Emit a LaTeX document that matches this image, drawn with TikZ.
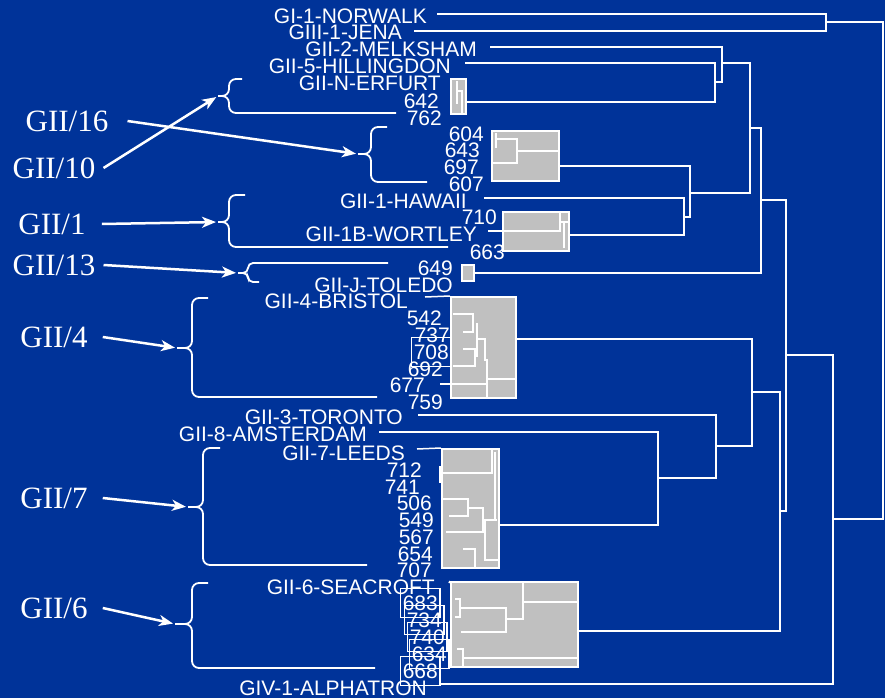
\documentclass[tikz,border=0pt]{standalone}
\usepackage{fontspec}
\setmainfont{Liberation Serif}
\setsansfont{Liberation Sans}
\usetikzlibrary{arrows.meta, fit}

\definecolor{slideblue}{RGB}{0,51,153}
\definecolor{clustergray}{RGB}{192,192,192}

\begin{document}
\begin{tikzpicture}[
    x=1pt, y=-1pt,
    strain/.style   ={font=\sffamily\fontsize{21}{24}\selectfont, text=white,
                      anchor=east, inner sep=0pt},
    genogroup/.style={font=\rmfamily\fontsize{31}{34}\selectfont, text=white,
                      inner sep=0pt},
    branch/.style   ={draw=white, line width=2pt},
    twig/.style     ={draw=white, line width=1.5pt},
    cluster/.style  ={draw=white, line width=2pt, fill=clustergray, inner sep=0pt},
    tag/.style      ={draw=white, line width=1.5pt, inner xsep=2pt, inner ysep=7pt},
    bracket/.style  ={draw=white, line width=1.8pt, rounded corners=7pt},
    pointer/.style  ={draw=white, line width=2.5pt, shorten >=2pt,
                      -{Stealth[length=14pt, width=11pt, inset=4pt]}}
]

\fill[slideblue] (0,0) rectangle (885,698);
\useasboundingbox (0,0) rectangle (885,698);

% =================== Strain labels ===================
\node[strain] (norwalk)    at (427,16)  {GI-1-NORWALK};
\node[strain] (jena)       at (402,32)  {GIII-1-JENA};
\node[strain] (melksham)   at (477,49)  {GII-2-MELKSHAM};
\node[strain] (hillingdon) at (451,66)  {GII-5-HILLINGDON};
\node[strain] (erfurt)     at (441,83)  {GII-N-ERFURT};
\node[strain] (s642)       at (439,101) {642};
\node[strain] (s762)       at (442,118) {762};
\node[strain] (s604)       at (484,134) {604};
\node[strain] (s643)       at (480,150) {643};
\node[strain] (s697)       at (479,167) {697};
\node[strain] (s607)       at (484,184) {607};
\node[strain] (hawaii)     at (467,201) {GII-1-HAWAII};
\node[strain] (s710)       at (497,217) {710};
\node[strain] (wortley)    at (477,234) {GII-1B-WORTLEY};
\node[strain] (s663)       at (505,252) {663};
\node[strain] (s649)       at (453,268) {649};
\node[strain] (toledo)     at (453,285) {GII-J-TOLEDO};
\node[strain] (bristol)    at (408,301) {GII-4-BRISTOL};
\node[strain] (s542)       at (442,318) {542};
\node[strain] (s737)       at (450,335) {737};
\node[strain] (s708)       at (449,352) {708};
\node[strain] (s692)       at (443,369) {692};
\node[strain] (s677)       at (425,385) {677};
\node[strain] (s759)       at (443,402) {759};
\node[strain] (toronto)    at (403,417) {GII-3-TORONTO};
\node[strain] (amsterdam)  at (367,434) {GII-8-AMSTERDAM};
\node[strain] (leeds)      at (405,453) {GII-7-LEEDS};
\node[strain] (s712)       at (422,470) {712};
\node[strain] (s741)       at (420,487) {741};
\node[strain] (s506)       at (432,503) {506};
\node[strain] (s549)       at (434,520) {549};
\node[strain] (s567)       at (434,537) {567};
\node[strain] (s654)       at (433,554) {654};
\node[strain] (s707)       at (432,570) {707};
\node[strain] (seacroft)   at (435,587) {GII-6-SEACROFT};
\node[strain] (s683)       at (438,603) {683};
\node[strain] (s734)       at (442,620) {734};
\node[strain] (s740)       at (445,637) {740};
\node[strain] (s634)       at (447,654) {634};
\node[strain] (s668)       at (438,671) {668};
\node[strain] (alphatron)  at (427,688) {GIV-1-ALPHATRON};

% --- boxed strain numbers ---
\node[tag, fit=(s708)] (t708) {};
\node[tag, fit=(s683)] (t683) {};
\node[tag, fit=(s734)] (t734) {};
\node[tag, fit=(s740)] (t740) {};
\node[tag, fit=(s634)] (t634) {};
\node[tag, fit=(s668)] (t668) {};

% =================== Collapsed clusters (grey) ===================
\node[cluster, fit={(451,79) (466,114)}]  (bErfurt)   {};
\node[cluster, fit={(492,131) (559,181)}] (b604)      {};
\node[cluster, fit={(503,212) (569,251)}] (b710)      {};
\node[cluster, fit={(462,265) (474,281)}] (b649)      {};
\node[cluster, fit={(451,297) (516,398)}] (bBristol)  {};
\node[cluster, fit={(442,449) (499,568)}] (bLeeds)    {};
\node[cluster, fit={(451,582) (578,667)}] (bSeacroft) {};

% inside the clusters
\draw[twig] (457,81) -- (457,104);
\draw[twig] (457,91) -- (462,91) -- (462,113);

\draw[twig] (496,133) -- (496,148);
\draw[twig] (496,139) -- (517,139) -- (517,163) -- (493,163);
\draw[twig] (517,151) -- (559,151);

\draw[twig] (488,231) -- (560,231) -- (560,212);
\draw[twig] (560,222) -- (569,222);
\draw[twig] (564,222) -- (564,248);

\draw[twig] ([xshift=17pt,yshift=4pt]bristol.east) -- (bBristol.north west);
\draw[twig] (453,314) -- (473,314) -- (473,332) -- (463,332);
\draw[twig] (477,323) -- (477,357);
\draw[twig] (463,349) -- (475,349) -- (475,366) -- (453,366);
\draw[twig] (477,339) -- (485,339) -- (485,360) -- (487,360) -- (487,398);
\draw[twig] (487,379) -- (516,379);
\draw[twig] ([xshift=15pt,yshift=1pt]s677.east) -- (487,384);

\draw[twig] ([xshift=12pt,yshift=4pt]leeds.east) -- (bLeeds.north west);
\draw[twig] (492,449) -- (492,473) -- (442,473);
\draw[twig] (440,466) -- (440,483);
\draw[twig] (495,452) -- (495,520);
\draw[twig] (443,499) -- (468,499) -- (468,516) -- (449,516);
\draw[twig] (468,508) -- (483,508) -- (483,532) -- (446,532);
\draw[twig] (497,520) -- (485,520) -- (485,560) -- (499,560);
\draw[twig] (463,549) -- (475,549) -- (475,567);

\draw[twig] ([xshift=14pt,yshift=4pt]seacroft.east) -- (bSeacroft.north west);
\draw[twig] (523,582) -- (523,619) -- (506,619);
\draw[twig] (523,602) -- (578,602);
\draw[twig] (460,608) -- (506,608) -- (506,632) -- (461,632);
\draw[twig] (455,599) -- (460,599) -- (460,617) -- (455,617);
\draw[twig] (457,649) -- (463,649) -- (463,667);
\draw[twig] (463,658) -- (578,658);

% =================== Dendrogram ===================
\coordinate (jNJ)   at (826,22);
\coordinate (jRoot) at (883,270);
\coordinate (jBig)  at (833,519);
\coordinate (jMid)  at (786,355);
\coordinate (jUp)   at (761,200);
\coordinate (jU1)   at (750,128);
\coordinate (jU2)   at (722,63);
\coordinate (jU4)   at (715,82);
\coordinate (jU3)   at (690,193);
\coordinate (jU5)   at (684,217);
\coordinate (jLow)  at (780,511);
\coordinate (jL1)   at (752,392);
\coordinate (jL2)   at (716,446);
\coordinate (jL3)   at (658,478);

\draw[branch] ([xshift=10pt,yshift=2pt]norwalk.east) -| (jNJ) |- ([xshift=12pt,yshift=1pt]jena.east);
\draw[branch] (jNJ) -| (jRoot) |- (jBig);
\draw[branch] (jMid) -| (jBig) |- ([xshift=12pt,yshift=4pt]alphatron.east);
\draw[branch] (jUp) -| (jMid) |- (jLow);

% upper branch
\draw[branch] (jU1) -| (jUp) |- (b649.east);
\draw[branch] (jU2) -| (jU1) |- (jU3);
\draw[branch] ([xshift=13pt,yshift=2pt]melksham.east) -| (jU2) |- (jU4);
\draw[branch] ([xshift=14pt,yshift=3pt]hillingdon.east) -| (jU4) |- ([yshift=-5.5pt]bErfurt.east);
\draw[branch] ([yshift=-10pt]b604.east) -| (jU3) |- (jU5);
\draw[branch] ([xshift=17pt,yshift=3pt]hawaii.east) -| (jU5) |- ([yshift=-3.5pt]b710.east);

% lower branch
\draw[branch] (jL1) -| (jLow) |- ([yshift=-6.5pt]bSeacroft.east);
\draw[branch] ([yshift=8.5pt]bBristol.east) -| (jL1) |- (jL2);
\draw[branch] ([xshift=15pt,yshift=2pt]toronto.east) -| (jL2) |- (jL3);
\draw[branch] ([xshift=12pt,yshift=2pt]amsterdam.east) -| (jL3) |- ([yshift=-16.5pt]bLeeds.east);

% =================== Genogroup braces ===================
\coordinate (tip10) at (218,96);
\coordinate (tip16) at (358,154);
\coordinate (tip1)  at (218,222);
\coordinate (tip13) at (238,273);
\coordinate (tip4)  at (177,348);
\coordinate (tip7)  at (188,507);
\coordinate (tip6)  at (175,624);

\draw[bracket] (242,79) -- (229,79) -- (229,96) -- (tip10);
\draw[bracket] (tip10) -- (229,96) -- (229,113) -- (396,113);
\draw[bracket] (387,127) -- (371,127) -- (371,154) -- (tip16);
\draw[bracket] (tip16) -- (371,154) -- (371,182) -- (427,182);
\draw[bracket] (245,195) -- (229,195) -- (229,222) -- (tip1);
\draw[bracket] (tip1) -- (229,222) -- (229,247) -- (448,247);
\draw[bracket, rounded corners=5pt] (388,263) -- (248,263) -- (248,273) -- (tip13);
\draw[bracket, rounded corners=5pt] (tip13) -- (248,273) -- (248,282) -- (259,282);
\draw[bracket] (208,298) -- (192,298) -- (192,348) -- (tip4);
\draw[bracket] (tip4) -- (192,348) -- (192,397) -- (377,397);
\draw[bracket] (220,448) -- (203,448) -- (203,507) -- (tip7);
\draw[bracket] (tip7) -- (203,507) -- (203,565) -- (367,565);
\draw[bracket] (208,583) -- (192,583) -- (192,624) -- (tip6);
\draw[bracket] (tip6) -- (192,624) -- (192,668) -- (375,668);

% =================== Genogroup labels ===================
\node[genogroup] (g16) at (67,121) {GII/16};
\node[genogroup] (g10) at (54,168) {GII/10};
\node[genogroup] (g1)  at (52,224) {GII/1};
\node[genogroup] (g13) at (54,265) {GII/13};
\node[genogroup] (g4)  at (54,337) {GII/4};
\node[genogroup] (g7)  at (54,498) {GII/7};
\node[genogroup] (g6)  at (54,608) {GII/6};

\draw[pointer] ([xshift=19pt]g16.east) -- (tip16);
\draw[pointer] ([xshift=8pt]g10.east)  -- (tip10);
\draw[pointer] ([xshift=16pt]g1.east)  -- (tip1);
\draw[pointer] ([xshift=8pt]g13.east)  -- (tip13);
\draw[pointer] ([xshift=15pt]g4.east)  -- (tip4);
\draw[pointer] ([xshift=15pt]g7.east)  -- (tip7);
\draw[pointer] ([xshift=15pt]g6.east)  -- (tip6);

\end{tikzpicture}
\end{document}
